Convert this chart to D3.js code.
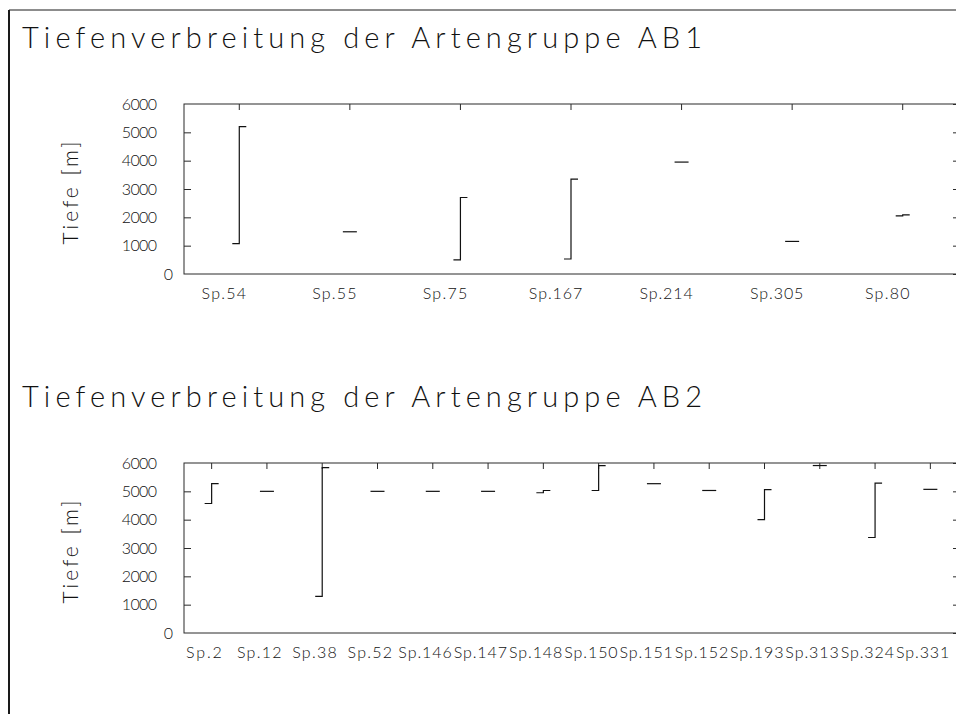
<!DOCTYPE html>
<html lang="de">
<head>
<meta charset="utf-8">
<title>Tiefenverbreitung der Artengruppen AB1 und AB2</title>
<script src="https://cdn.jsdelivr.net/npm/d3@7"></script>
<style>
  body { margin: 0; background: #fff; }
  svg { display: block; }
  text { font-family: "Lato", "DejaVu Sans", sans-serif; font-weight: 300; fill: #111; }
  .frame { fill: none; stroke: #2a2a2a; stroke-width: 1; }
  .tick line { stroke: #2a2a2a; }
  .mark { fill: none; stroke: #111; stroke-width: 1.2; }
  .border { stroke: #1a1a1a; }
</style>
</head>
<body>
<script>
// Artengruppe AB1: min / max depth per species (m)
var ab1Species = ["Sp.54", "Sp.55", "Sp.75", "Sp.167", "Sp.214", "Sp.305", "Sp.80"];
var ab1Min = [1070, 1490, 500, 530, 3950, 1150, 2050];
var ab1Max = [5200, 1490, 2700, 3350, 3950, 1150, 2090];

// Artengruppe AB2
var ab2Species = ["Sp.2", "Sp.12", "Sp.38", "Sp.52", "Sp.146", "Sp.147", "Sp.148",
                  "Sp.150", "Sp.151", "Sp.152", "Sp.193", "Sp.313", "Sp.324", "Sp.331"];
var ab2Min = [4570, 5000, 1290, 5000, 5000, 5000, 4950, 5030, 5270, 5030, 4000, 5910, 3370, 5070];
var ab2Max = [5270, 5000, 5840, 5000, 5000, 5000, 5030, 5910, 5270, 5030, 5060, 5910, 5290, 5070];

var depthTicks = [0, 1000, 2000, 3000, 4000, 5000, 6000];

var width = 956,
    height = 714;

var left = 184,
    right = 958,
    plotH = 170,
    tickLen = 7;

var svg = d3.select("body")
    .append("svg")
    .attr("width", width)
    .attr("height", height);

// page border (left + top)
svg.append("line").attr("class", "border")
    .attr("x1", 9).attr("x2", 9).attr("y1", 10).attr("y2", height)
    .attr("stroke-width", 2);
svg.append("line").attr("class", "border")
    .attr("x1", 9).attr("x2", width).attr("y1", 10).attr("y2", 10)
    .attr("stroke-width", 1);

function drawPanel(top, title, species, dMin, dMax) {
    var g = svg.append("g");

    var x = d3.scaleBand()
        .domain(species)
        .range([left, right]);

    var y = d3.scaleLinear()
        .domain([0, 6000])
        .range([top + plotH, top]);

    var bw = x.bandwidth();

    // title
    g.append("text")
        .attr("x", 22)
        .attr("y", top - 56)
        .attr("textLength", 680)
        .attr("lengthAdjust", "spacing")
        .style("font-size", "29px")
        .text(title);

    // y axis title
    g.append("text")
        .attr("transform", "translate(78," + (top + plotH / 2 + 4) + ") rotate(-90)")
        .attr("text-anchor", "middle")
        .attr("textLength", 103)
        .attr("lengthAdjust", "spacing")
        .style("font-size", "21px")
        .text("Tiefe [m]");

    // left axis, ticks pointing inward
    var yAxis = g.append("g")
        .attr("transform", "translate(" + left + ",0)")
        .call(d3.axisLeft(y).tickValues(depthTicks).tickFormat(d3.format("d"))
            .tickSizeInner(-tickLen).tickSizeOuter(0).tickPadding(27));
    yAxis.select(".domain").remove();
    yAxis.selectAll("text")
        .style("font-size", "16px")
        .style("font-family", null)
        .attr("textLength", function(d) { return String(d).length * 8.8; })
        .attr("lengthAdjust", "spacing")
        .attr("x", function(d) { return d === 0 ? -11 : -27; });
    yAxis.selectAll(".tick line").filter(function(d) { return d === 0 || d === 6000; }).remove();

    // right axis ticks
    var yRight = g.append("g")
        .attr("transform", "translate(" + right + ",0)")
        .call(d3.axisLeft(y).tickValues(depthTicks).tickSize(5).tickFormat(""));
    yRight.select(".domain").remove();

    // top axis ticks
    var xTop = g.append("g")
        .attr("transform", "translate(0," + top + ")")
        .call(d3.axisTop(x).tickSizeInner(-6).tickSizeOuter(0).tickFormat(""));
    xTop.select(".domain").remove();

    // category labels
    var xBottom = g.append("g")
        .attr("transform", "translate(0," + (top + plotH) + ")")
        .call(d3.axisBottom(x).tickSize(0));
    xBottom.select(".domain").remove();
    xBottom.selectAll("text")
        .style("font-size", "16px")
        .style("font-family", null)
        .attr("y", 25)
        .attr("dy", null)
        .attr("dx", -0.14 * bw)
        .attr("textLength", function(d) { return d.length * 8.9; })
        .attr("lengthAdjust", "spacing");

    // frame
    g.append("rect")
        .attr("class", "frame")
        .attr("x", left)
        .attr("y", top)
        .attr("width", right - left)
        .attr("height", plotH);

    // depth range marks: left tick at min, vertical line, right tick at max
    var rows = species.map(function(s, i) { return { sp: s, lo: dMin[i], hi: dMax[i] }; });
    g.selectAll(".mark")
        .data(rows)
        .enter()
        .append("path")
        .attr("class", "mark")
        .attr("d", function(d) {
            var cx = x(d.sp) + bw / 2;
            return "M" + (cx - tickLen) + "," + y(d.lo) +
                   "H" + cx +
                   "V" + y(d.hi) +
                   "H" + (cx + tickLen);
        });
}

drawPanel(104, "Tiefenverbreitung der Artengruppe AB1", ab1Species, ab1Min, ab1Max);
drawPanel(463, "Tiefenverbreitung der Artengruppe AB2", ab2Species, ab2Min, ab2Max);
</script>
</body>
</html>
